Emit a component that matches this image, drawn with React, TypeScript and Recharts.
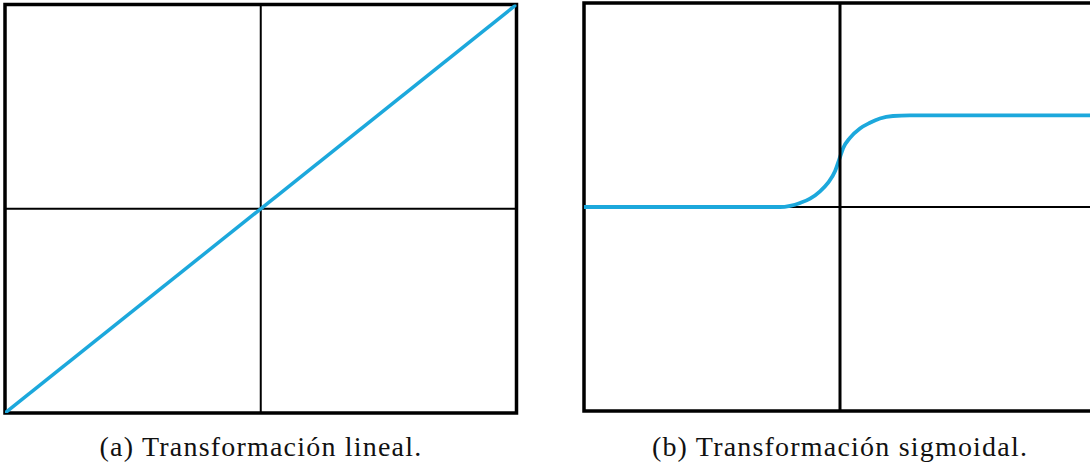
import React from "react";
import { LineChart, Line, XAxis, YAxis, ReferenceLine, ReferenceArea } from "recharts";

// Panel (a): identity mapping across the full range
const linearX = [-1, 1];
const linearY = [-1, 1];

// Panel (b): sigmoidal mapping, flat at 0 then rising to a plateau
const sigmoidX = [-1, -0.234, -0.195, -0.156, -0.117, -0.078, -0.047, -0.019, -0.003, 0.013, 0.039, 0.078, 0.117, 0.156, 0.207, 0.273, 1];
const sigmoidY = [0, 0, 0.006, 0.02, 0.041, 0.077, 0.118, 0.176, 0.233, 0.29, 0.339, 0.385, 0.413, 0.434, 0.446, 0.449, 0.449];

const captions = ["(a) Transformación lineal.", "(b) Transformación sigmoidal."];

const BLUE = "#1ca8dc";

const linearData = linearX.map((x, i) => ({ x, y: linearY[i] }));
const sigmoidData = sigmoidX.map((x, i) => ({ x, y: sigmoidY[i] }));

const captionStyle: React.CSSProperties = {
  position: "absolute",
  top: 430,
  width: 500,
  textAlign: "center",
  fontFamily: "'Liberation Serif', serif",
  fontSize: 28,
  letterSpacing: 1.2,
  lineHeight: "34px",
  color: "#111",
  whiteSpace: "nowrap",
};

export default function App() {
  return (
    <div
      style={{
        position: "fixed",
        left: 0,
        top: 0,
        width: 1090,
        height: 468,
        overflow: "hidden",
        background: "#fff",
      }}
    >
      <div style={{ position: "absolute", left: 0, top: 0 }}>
        <LineChart width={522} height={418} data={linearData} margin={{ left: 5, right: 5.5, top: 4.5, bottom: 5 }}>
          <XAxis type="number" dataKey="x" domain={[-1, 1]} hide allowDataOverflow />
          <YAxis type="number" dataKey="y" domain={[-1, 1]} hide allowDataOverflow />
          <ReferenceLine x={0} stroke="#000" strokeWidth={2} />
          <ReferenceLine y={0} stroke="#000" strokeWidth={2} />
          <Line dataKey="y" stroke={BLUE} strokeWidth={3.5} dot={false} isAnimationActive={false} />
          <ReferenceArea x1={-1} x2={1} y1={-1} y2={1} fill="none" fillOpacity={0} stroke="#000" strokeWidth={3.5} />
        </LineChart>
      </div>
      <div style={{ position: "absolute", left: 574, top: 0 }}>
        <LineChart width={532} height={414} data={sigmoidData} margin={{ left: 10, right: 10, top: 3, bottom: 3 }}>
          <XAxis type="number" dataKey="x" domain={[-1, 1]} hide allowDataOverflow />
          <YAxis type="number" dataKey="y" domain={[-1, 1]} hide allowDataOverflow />
          <ReferenceLine y={0} stroke="#000" strokeWidth={1.8} />
          <Line type="monotone" dataKey="y" stroke={BLUE} strokeWidth={3.8} dot={false} isAnimationActive={false} />
          <ReferenceLine x={0} stroke="#000" strokeWidth={3} />
          <ReferenceArea x1={-1} x2={1} y1={-1} y2={1} fill="none" fillOpacity={0} stroke="#000" strokeWidth={3.5} />
        </LineChart>
      </div>
      <div style={{ ...captionStyle, left: 261 - 250 }}>{captions[0]}</div>
      <div style={{ ...captionStyle, left: 840 - 250 }}>{captions[1]}</div>
    </div>
  );
}
